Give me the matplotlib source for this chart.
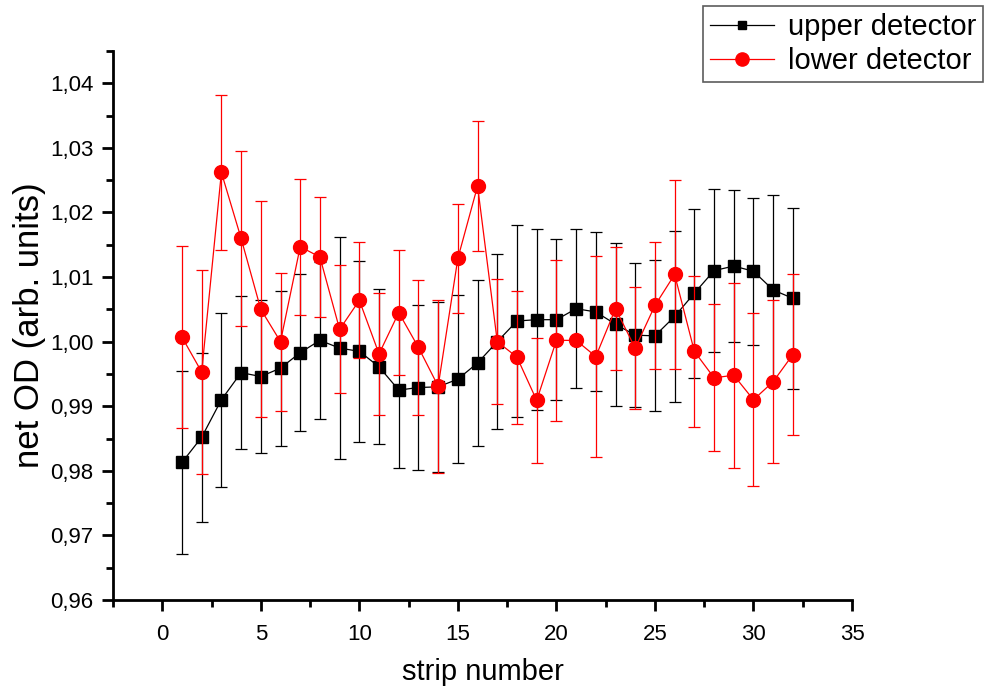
import numpy as np
import matplotlib
matplotlib.use("Agg")
import matplotlib.pyplot as plt
from matplotlib.lines import Line2D
from matplotlib.ticker import MultipleLocator, FuncFormatter

plt.rcParams['font.family'] = ['Liberation Sans', 'DejaVu Sans']

strip = np.arange(1, 33)

upper_od = [0.9813, 0.9852, 0.9910, 0.9952, 0.9946, 0.9959, 0.9983, 1.0002,
            0.9990, 0.9985, 0.9961, 0.9925, 0.9929, 0.9930, 0.9942, 0.9967,
            1.0000, 1.0032, 1.0034, 1.0034, 1.0051, 1.0046, 1.0027, 1.0010,
            1.0009, 1.0039, 1.0075, 1.0110, 1.0117, 1.0109, 1.0080, 1.0067]
upper_err = [0.0142, 0.0131, 0.0135, 0.0118, 0.0118, 0.0120, 0.0122, 0.0122,
             0.0172, 0.0140, 0.0120, 0.0121, 0.0127, 0.0132, 0.0130, 0.0129,
             0.0136, 0.0148, 0.0140, 0.0125, 0.0123, 0.0123, 0.0126, 0.0111,
             0.0117, 0.0132, 0.0131, 0.0126, 0.0118, 0.0114, 0.0147, 0.0140]

lower_od = [1.0007, 0.9953, 1.0262, 1.0160, 1.0050, 1.0000, 1.0147, 1.0131,
            1.0019, 1.0064, 0.9981, 1.0045, 0.9991, 0.9931, 1.0129, 1.0241,
            1.0000, 0.9976, 0.9909, 1.0002, 1.0002, 0.9977, 1.0051, 0.9990,
            1.0056, 1.0104, 0.9985, 0.9944, 0.9948, 0.9910, 0.9938, 0.9980]
lower_err = [0.0141, 0.0158, 0.0120, 0.0135, 0.0167, 0.0107, 0.0105, 0.0093,
             0.0099, 0.0090, 0.0094, 0.0097, 0.0105, 0.0134, 0.0084, 0.0100,
             0.0097, 0.0103, 0.0097, 0.0125, 0.0005, 0.0155, 0.0095, 0.0094,
             0.0098, 0.0146, 0.0117, 0.0114, 0.0143, 0.0134, 0.0126, 0.0124]

fig = plt.figure(figsize=(9.87, 6.88), dpi=100)
ax = fig.add_axes([113/987, 88/688, (852-113)/987, (600-51)/688])

ax.errorbar(strip, upper_od, yerr=upper_err, color='black', lw=0.9,
            marker='s', ms=9, mec='black', mfc='black', elinewidth=0.9,
            capsize=4.5, capthick=0.9, zorder=2)
ax.errorbar(strip, lower_od, yerr=lower_err, color='red', lw=0.9,
            marker='o', ms=10, mec='red', mfc='red', elinewidth=0.9,
            capsize=4.5, capthick=0.9, zorder=3)

ax.set_xlim(-2.5, 35)
ax.set_ylim(0.96, 1.045)
ax.xaxis.set_major_locator(MultipleLocator(5))
ax.xaxis.set_minor_locator(MultipleLocator(2.5))
ax.yaxis.set_major_locator(MultipleLocator(0.01))
ax.yaxis.set_minor_locator(MultipleLocator(0.005))
ax.yaxis.set_major_formatter(FuncFormatter(lambda v, p: f"{v:.2f}".replace('.', ',')))

for side in ('top', 'right'):
    ax.spines[side].set_visible(False)
for side in ('left', 'bottom'):
    ax.spines[side].set_linewidth(2)
ax.tick_params(which='major', direction='out', length=8, width=2, labelsize=16)
ax.tick_params(axis='x', which='major', pad=9)
ax.tick_params(axis='y', which='major', pad=6)
ax.tick_params(which='minor', direction='out', length=5, width=2)

ax.set_xlabel('strip number', fontsize=21, labelpad=10)
ax.set_ylabel('net OD (arb. units)', fontsize=25, labelpad=3)

# legend shows line + marker only, no error bars
handles = [Line2D([], [], color='black', lw=0.9, marker='s', ms=6),
           Line2D([], [], color='red', lw=0.9, marker='o', ms=9.5)]
leg = fig.legend(handles, ['upper detector', 'lower detector'],
                 loc='upper left', bbox_to_anchor=(703/987, 1 - 6/688),
                 fontsize=21, frameon=True, fancybox=False, edgecolor='#333333',
                 handlelength=2.2, handletextpad=0.45, borderpad=0.25,
                 labelspacing=0.2, borderaxespad=0)
leg.get_frame().set_linewidth(1.2)

fig.savefig('out.png', dpi=100)
